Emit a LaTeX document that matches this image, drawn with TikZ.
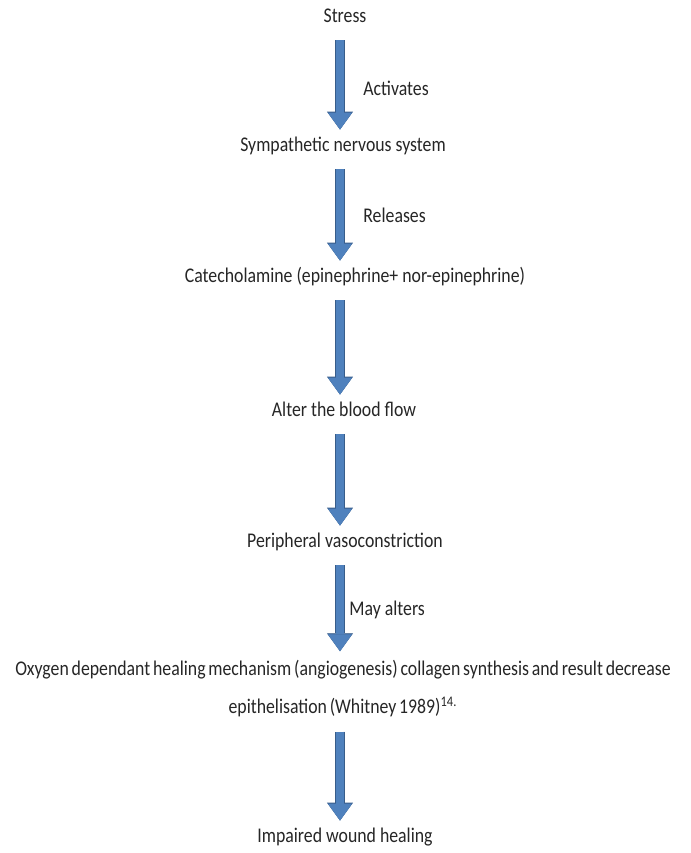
\documentclass[tikz,border=0pt]{standalone}
\usepackage{fontspec}
\setmainfont{Carlito}[FakeStretch=0.85]
\newfontfamily\tightfont{Carlito}[FakeStretch=0.85, WordSpace=0.7]
\usepackage{tikz}
\usepackage{xcolor}
\usetikzlibrary{arrows.meta}

\definecolor{arrowfill}{HTML}{4F81BD}
\definecolor{arrowedge}{HTML}{385D8A}

\begin{document}
\begin{tikzpicture}[x=0.5pt, y=-0.5pt,
    stage/.style={inner sep=0pt, text height=6pt, text depth=2pt, text=black!85,
        font=\fontsize{10.45}{19}\selectfont},
    note/.style={inner sep=0pt, anchor=west, text=black!85, font=\fontsize{10.45}{12}\selectfont},
    flow/.style={draw=arrowfill, line width=3.8pt, shorten <=7pt, shorten >=4.5pt,
        -{Triangle[width=12pt, length=8.5pt, line width=0.4pt]},
        preaction={draw=arrowedge, line width=4.6pt, shorten <=7pt, shorten >=4.5pt,
            -{Triangle[width=13pt, length=9pt, line width=0.4pt]}}}]
    \useasboundingbox (0,0) rectangle (691,853);

    % column of the arrows
    \coordinate (axis) at (340,0);

    % Chain of effects
    \node [stage] (stress) at (345,18) {Stress};
    \node [stage] (sympathetic) at (343,147) {Sympathetic nervous system};
    \node [stage] (catechol) at (355,278) {Catecholamine (epinephrine+ nor-epinephrine)};
    \node [stage] (blood) at (344,412) {Alter the blood flow};
    \node [stage] (vaso) at (345,543) {Peripheral vasoconstriction};
    \node [inner sep=0pt, align=center, text=black!85,
        font=\tightfont\fontsize{10.45}{19}\selectfont]
        (oxygen) at (343,689) {Oxygen dependant healing mechanism (angiogenesis) collagen synthesis and result decrease\\
        epithelisation (Whitney 1989)\textsuperscript{14.}};
    \node [stage] (impaired) at (345,838) {Impaired wound healing};

    % Arrows
    \draw [flow] (stress.south -| axis) -- (sympathetic.north -| axis);
    \draw [flow] (sympathetic.south -| axis) -- (catechol.north -| axis);
    \draw [flow] (catechol.south -| axis) -- (blood.north -| axis);
    \draw [flow] (blood.south -| axis) -- (vaso.north -| axis);
    \draw [flow] (vaso.south -| axis) -- (oxygen.north -| axis);
    \draw [flow] (oxygen.south -| axis) -- (impaired.north -| axis);

    % Arrow labels
    \node [note] (activates) at (363,88) {Activates};
    \node [note] (releases) at (363,215) {Releases};
    \node [note] (mayalter) at (349,610) {May alters};
\end{tikzpicture}
\end{document}
